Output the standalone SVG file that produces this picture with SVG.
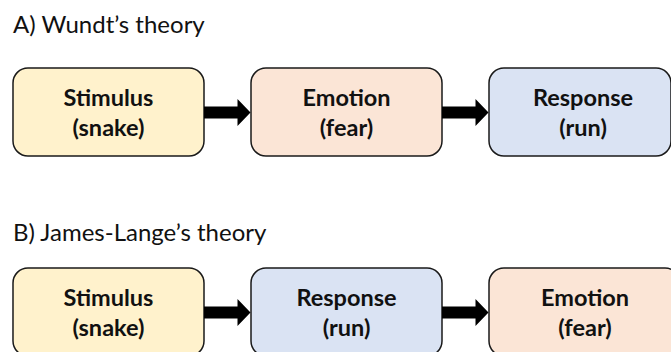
<svg xmlns="http://www.w3.org/2000/svg" width="671" height="352" viewBox="0 0 671 352">
<style>
.title{font-family:Lato,"Liberation Sans",sans-serif;font-size:24px;fill:#111}
.lbl{font-family:Lato,"Liberation Sans",sans-serif;font-size:23.5px;font-weight:bold;fill:#111;text-anchor:middle}
.box{stroke:#1a1a1a;stroke-width:1.5}
.stim{fill:#FFF2CC}
.emo{fill:#FBE5D6}
.resp{fill:#DAE3F3}
.arrow{fill:#000}
</style>
<rect width="671" height="352" fill="#fff"/>
<text class="title" x="13" y="33">A) Wundt’s theory</text>
<text class="title" x="13" y="241">B) James-Lange’s theory</text>
<g id="a-stimulus">
<rect class="box stim" x="13" y="68" width="191" height="88" rx="15"/>
<text class="lbl" x="108.5" y="105.5">Stimulus</text>
<text class="lbl" x="108.5" y="135.5">(snake)</text>
</g>
<g id="a-emotion">
<rect class="box emo" x="251" y="68" width="191" height="88" rx="15"/>
<text class="lbl" x="346.5" y="105.5">Emotion</text>
<text class="lbl" x="346.5" y="135.5">(fear)</text>
</g>
<g id="a-response">
<rect class="box resp" x="489" y="68" width="182" height="88" rx="15"/>
<text class="lbl" x="583" y="105.5">Response</text>
<text class="lbl" x="583" y="135.5">(run)</text>
</g>
<g id="b-stimulus">
<rect class="box stim" x="13" y="268" width="191" height="88" rx="15"/>
<text class="lbl" x="108.5" y="305.5">Stimulus</text>
<text class="lbl" x="108.5" y="335.5">(snake)</text>
</g>
<g id="b-response">
<rect class="box resp" x="251" y="268" width="191" height="88" rx="15"/>
<text class="lbl" x="346.5" y="305.5">Response</text>
<text class="lbl" x="346.5" y="335.5">(run)</text>
</g>
<g id="b-emotion">
<rect class="box emo" x="489" y="268" width="191" height="88" rx="15"/>
<text class="lbl" x="585" y="305.5">Emotion</text>
<text class="lbl" x="585" y="335.5">(fear)</text>
</g>
<g id="connectors">
<path class="arrow" d="M204,106.5 H237.5 V99 L250.5,112.5 L237.5,126 V118.5 H204 Z"/>
<path class="arrow" d="M442,106.5 H475.5 V99 L488.5,112.5 L475.5,126 V118.5 H442 Z"/>
<path class="arrow" d="M204,306.5 H237.5 V299 L250.5,312.5 L237.5,326 V318.5 H204 Z"/>
<path class="arrow" d="M442,306.5 H475.5 V299 L488.5,312.5 L475.5,326 V318.5 H442 Z"/>
</g>
</svg>
